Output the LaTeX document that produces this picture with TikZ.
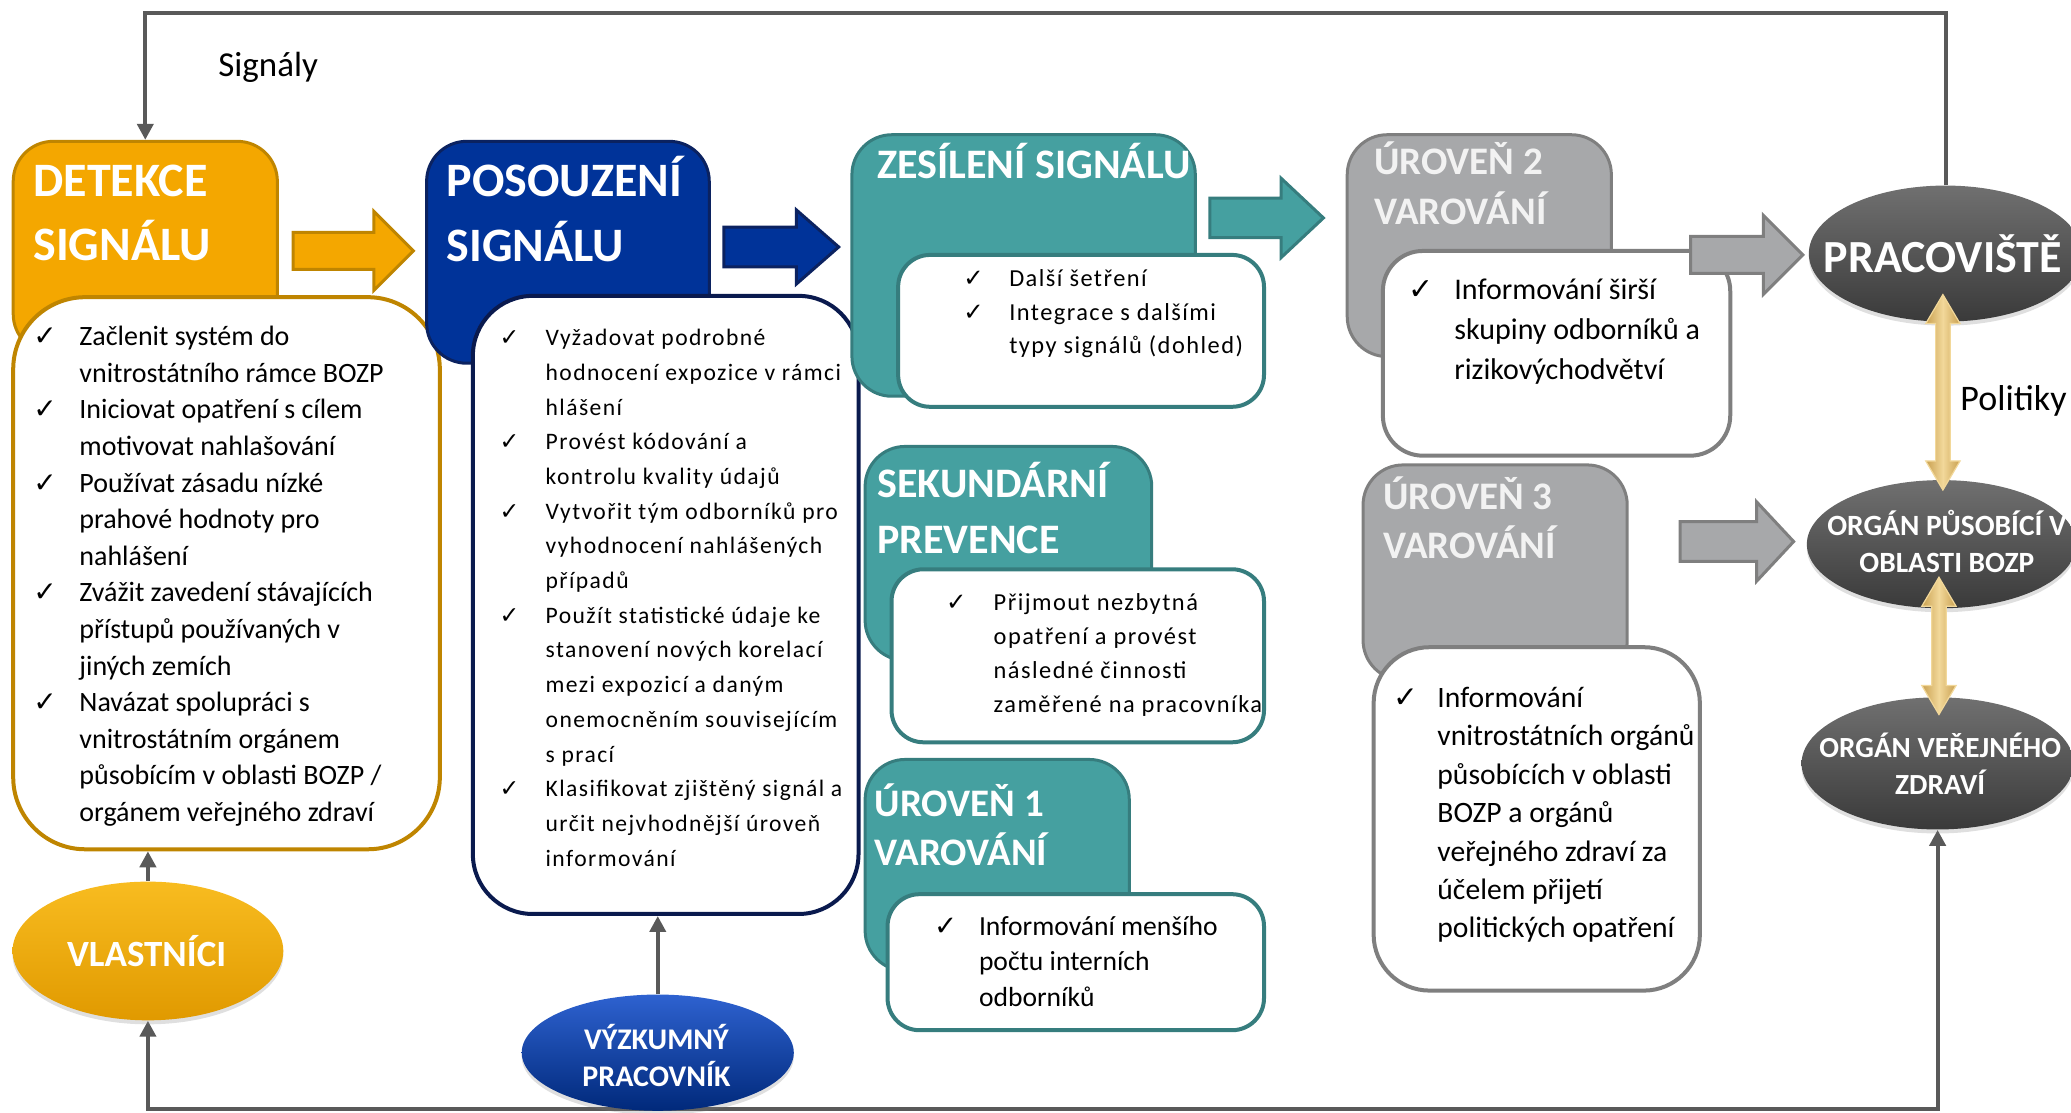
\documentclass[tikz,border=0pt]{standalone}
\usepackage{fontspec}
\setmainfont{Carlito}
\newfontfamily\symf{DejaVu Sans}
\newfontfamily\spacedf[LetterSpace=6]{Carlito}
\usetikzlibrary{shapes.geometric,arrows.meta,fit,calc,shadows,backgrounds}

\definecolor{orgF}{HTML}{F4A700}
\definecolor{orgD}{HTML}{BF8500}
\definecolor{orgL}{HTML}{F8BC20}
\definecolor{bluF}{HTML}{003399}
\definecolor{bluD}{HTML}{0B2260}
\definecolor{bluL}{HTML}{2E62D0}
\definecolor{navy}{HTML}{0A1A4E}
\definecolor{tealF}{HTML}{45A0A0}
\definecolor{tealD}{HTML}{367D7E}
\definecolor{gryF}{HTML}{A7A8AA}
\definecolor{gryD}{HTML}{7F7F7F}
\definecolor{gryT}{HTML}{F2F2F2}
\definecolor{conn}{HTML}{595959}
\definecolor{goldF}{HTML}{F2D89A}
\definecolor{goldD}{HTML}{C9A050}
\definecolor{ellL}{HTML}{707070}
\definecolor{ellD}{HTML}{3A3A3A}

\newcommand\ck{{\symf ✓}}
\newcommand\barrow[7]{\draw[#1] (#2,{#4-#5}) -- (#7,{#4-#5}) -- (#7,{#4-#6}) -- (#3,#4) -- (#7,{#4+#6}) -- (#7,{#4+#5}) -- (#2,{#4+#5}) -- cycle;}
\newcommand\dblarrow[3]{\path[draw=goldF, line width=0.6pt, left color=goldD, right color=goldD, middle color=goldF]
  (#1,#2) -- ({#1+13},{#2+22}) -- ({#1+5.5},{#2+22}) -- ({#1+5.5},{#3-22}) -- ({#1+13},{#3-22}) -- (#1,#3)
  -- ({#1-13},{#3-22}) -- ({#1-5.5},{#3-22}) -- ({#1-5.5},{#2+22}) -- ({#1-13},{#2+22}) -- cycle;}

\begin{document}
\begin{tikzpicture}[x=0.6604pt, y=-0.6604pt,
  hdr/.style={rectangle, rounded corners=20pt, line width=1.5pt, inner sep=0pt},
  wbox/.style={rectangle, fill=white, line width=2pt, inner sep=0pt},
  hd/.style={text=white, font=\bfseries\fontsize{24}{28}\selectfont, inner sep=0pt},
  hds/.style={text=white, font=\bfseries\fontsize{21}{26}\selectfont, inner sep=0pt},
  hdu/.style={text=white, font=\bfseries\fontsize{19.5}{25}\selectfont, inner sep=0pt},
  hdg/.style={text=gryT, font=\bfseries\fontsize{19.5}{25}\selectfont, inner sep=0pt},
  txt/.style={inner sep=0pt, text=black},
  ell/.style={ellipse, inner sep=0pt, drop shadow={shadow xshift=0pt, shadow yshift=-2pt, opacity=0.25}},
  elt/.style={text=white, align=center, inner sep=0pt},
  conn/.style={draw=conn, line width=2pt},
  arr/.style={-{Triangle[width=8pt,length=8pt]}},
]
\useasboundingbox (0,0) rectangle (1568,842);

% ---------- DETEKCE SIGNALU
\node[hdr, fill=orgF, draw=orgD, fit={(10,107)(210,268)}] (dethead) {};
\node[hd, anchor=base west] (dt1) at (25,149) {DETEKCE};
\node[hd, anchor=base west] (dt2) at (25,197) {SIGNÁLU};
\node[wbox, draw=orgD, rounded corners=36pt, fit={(10,225)(333,643)}] (detbox) {};
\node[txt, anchor=north west, font=\fontsize{14}{18.3}\selectfont] (dettxt) at (25,242) {%
\begin{tabular}{@{}p{23pt}@{}l@{}}
\ck & Začlenit systém do\\
    & vnitrostátního rámce BOZP\\
\ck & Iniciovat opatření s cílem\\
    & motivovat nahlašování\\
\ck & Používat zásadu nízké\\
    & prahové hodnoty pro\\
    & nahlášení\\
\ck & Zvážit zavedení stávajících\\
    & přístupů používaných v\\
    & jiných zemích\\
\ck & Navázat spolupráci s\\
    & vnitrostátním orgánem\\
    & působícím v oblasti BOZP /\\
    & orgánem veřejného zdraví
\end{tabular}};

% ---------- POSOUZENI SIGNALU
\node[hdr, fill=bluF, draw=bluD, fit={(323,107)(537,275)}] (poshead) {};
\node[hd, anchor=base west] (ps1) at (338,149) {POSOUZENÍ};
\node[hd, anchor=base west] (ps2) at (338,198) {SIGNÁLU};
\node[wbox, draw=navy, rounded corners=30pt, fit={(358,224)(650,692)}] (posbox) {};
\node[txt, anchor=north west, font=\spacedf\fontsize{11.8}{17.35}\selectfont] (postxt) at (378,243) {%
\begin{tabular}{@{}p{23pt}@{}l@{}}
\ck & Vyžadovat podrobné\\
    & hodnocení expozice v rámci\\
    & hlášení\\
\ck & Provést kódování a\\
    & kontrolu kvality údajů\\
\ck & Vytvořit tým odborníků pro\\
    & vyhodnocení nahlášených\\
    & případů\\
\ck & Použít statistické údaje ke\\
    & stanovení nových korelací\\
    & mezi expozicí a daným\\
    & onemocněním souvisejícím\\
    & s prací\\
\ck & Klasifikovat zjištěný signál a\\
    & určit nejvhodnější úroveň\\
    & informování
\end{tabular}};

% ---------- ZESILENI SIGNALU
\node[hdr, fill=tealF, draw=tealD, fit={(645,102)(905,300)}] (zeshead) {};
\node[hds, anchor=base west] (zs1) at (664,135) {ZESÍLENÍ SIGNÁLU};
\node[wbox, draw=tealD, rounded corners=16pt, fit={(680,193)(957,308)}] (zesbox) {};
\node[txt, anchor=north west, font=\spacedf\fontsize{12.2}{16.8}\selectfont] (zestxt) at (729,199) {%
\begin{tabular}{@{}p{23pt}@{}l@{}}
\ck & Další šetření\\
\ck & Integrace s dalšími\\
    & typy signálů (dohled)
\end{tabular}};

% ---------- SEKUNDARNI PREVENCE
\node[hdr, fill=tealF, draw=tealD, fit={(655,338)(872,500)}] (sekhead) {};
\node[hds, anchor=base west] (sk1) at (664,377) {SEKUNDÁRNÍ};
\node[hds, anchor=base west] (sk2) at (664,419) {PREVENCE};
\node[wbox, draw=tealD, rounded corners=16pt, fit={(675,431)(957,562)}] (sekbox) {};
\node[txt, anchor=north west, font=\spacedf\fontsize{12.2}{17}\selectfont] (sektxt) at (716,444) {%
\begin{tabular}{@{}p{23.8pt}@{}l@{}}
\ck & Přijmout nezbytná\\
    & opatření a provést\\
    & následné činnosti\\
    & zaměřené na pracovníka
\end{tabular}};

% ---------- UROVEN 1
\node[hdr, fill=tealF, draw=tealD, fit={(655,575)(855,735)}] (u1head) {};
\node[hdu, anchor=base west] (u11) at (662,618) {ÚROVEŇ 1};
\node[hdu, anchor=base west] (u12) at (662,655) {VAROVÁNÍ};
\node[wbox, draw=tealD, rounded corners=16pt, fit={(672,677)(957,780)}] (u1box) {};
\node[txt, anchor=north west, font=\fontsize{13.8}{17.8}\selectfont] (u1txt) at (707,689) {%
\begin{tabular}{@{}p{22.4pt}@{}l@{}}
\ck & Informování menšího\\
    & počtu interních\\
    & odborníků
\end{tabular}};

% ---------- UROVEN 2
\node[hdr, fill=gryF, draw=gryD, fit={(1020,102)(1220,270)}] (u2head) {};
\node[hdg, anchor=base west] (u21) at (1040,132) {ÚROVEŇ 2};
\node[hdg, anchor=base west] (u22) at (1040,170) {VAROVÁNÍ};
\node[wbox, draw=gryD, rounded corners=20pt, fit={(1047,190)(1310,345)}] (u2box) {};
\node[txt, anchor=north west, font=\fontsize{15}{20}\selectfont] (u2txt) at (1066,205) {%
\begin{tabular}{@{}p{23pt}@{}l@{}}
\ck & Informování širší\\
    & skupiny odborníků a\\
    & rizikovýchodvětví
\end{tabular}};

% ---------- UROVEN 3
\node[hdr, fill=gryF, draw=gryD, fit={(1032,352)(1232,515)}] (u3head) {};
\node[hdg, anchor=base west] (u31) at (1047,386) {ÚROVEŇ 3};
\node[hdg, anchor=base west] (u32) at (1047,423) {VAROVÁNÍ};
\node[wbox, draw=gryD, rounded corners=28pt, fit={(1040,490)(1287,750)}] (u3box) {};
\node[txt, anchor=north west, font=\fontsize{14.8}{19.2}\selectfont] (u3txt) at (1055,515) {%
\begin{tabular}{@{}p{21.8pt}@{}l@{}}
\ck & Informování\\
    & vnitrostátních orgánů\\
    & působících v oblasti\\
    & BOZP a orgánů\\
    & veřejného zdraví za\\
    & účelem přijetí\\
    & politických opatření
\end{tabular}};

% ---------- block arrows between stages
\barrow{fill=orgF, draw=orgD, line width=1.5pt}{222}{313}{190}{14}{30}{283}
\barrow{fill=bluF, draw=bluD, line width=1.5pt}{548}{635}{187}{15}{28}{603}
\barrow{fill=tealF, draw=tealD, line width=1.5pt}{916}{1002}{165}{15}{30}{970}
\barrow{fill=gryF, draw=gryD, line width=1.5pt}{1280}{1365}{193}{14}{30}{1335}
\barrow{fill=gryF, draw=gryD, line width=1.5pt}{1272}{1358}{410}{15}{30}{1330}

% ---------- ellipses
\node[ell, top color=ellL, bottom color=ellD, minimum width=207*0.6604pt, minimum height=103*0.6604pt] (prac) at (1473,192) {};
\node[elt, font=\bfseries\fontsize{23}{25}\selectfont] (pract) at (1471,192) {PRACOVIŠTĚ};
\node[ell, top color=ellL, bottom color=ellD, minimum width=204*0.6604pt, minimum height=97*0.6604pt] (bozp) at (1470,412) {};
\node[elt, font=\bfseries\fontsize{14.7}{18.5}\selectfont] (bozpt) at (1474,410) {ORGÁN PŮSOBÍCÍ V\\OBLASTI BOZP};
\node[ell, top color=ellL, bottom color=ellD, minimum width=206*0.6604pt, minimum height=100*0.6604pt] (ozdr) at (1467,578) {};
\node[elt, font=\bfseries\fontsize{14.6}{18.5}\selectfont] (ozdrt) at (1469,578) {ORGÁN VEŘEJNÉHO\\ZDRAVÍ};
\node[ell, top color=orgL, bottom color=orgF!92!black, minimum width=205*0.6604pt, minimum height=105*0.6604pt] (vlast) at (112,720) {};
\node[elt, font=\bfseries\fontsize{18.5}{20}\selectfont] (vlastt) at (111,720) {VLASTNÍCI};
\node[ell, top color=bluL, bottom color=bluF!80!black, minimum width=206*0.6604pt, minimum height=88*0.6604pt] (vyz) at (498,797) {};
\node[elt, font=\bfseries\fontsize{15}{18.5}\selectfont] (vyzt) at (497,799) {VÝZKUMNÝ\\PRACOVNÍK};

% ---------- gold double arrows
\dblarrow{1471}{223}{371}
\dblarrow{1468}{437}{541}

% ---------- connectors (behind everything)
\coordinate (topY) at (0,10);
\coordinate (botY) at (0,840);
\begin{scope}[on background layer]
\draw[conn, arr] (prac.north) |- (dethead.north |- topY) -- (dethead.north);
\draw[conn, {Triangle[width=8pt,length=8pt]}-{Triangle[width=8pt,length=8pt]}] (vlast.south) -- (vlast.south |- botY) -| (ozdr.south);
\draw[conn, arr] (vlast.north) -- (vlast.north |- detbox.south);
\draw[conn, arr] (vyz.north) -- (vyz.north |- posbox.south);
\end{scope}

% ---------- labels
\node[txt, font=\fontsize{17.5}{20}\selectfont, anchor=base west] (signaly) at (165,58) {Signály};
\node[txt, font=\fontsize{18}{21}\selectfont, anchor=base west] (politiky) at (1484,311) {Politiky};
\end{tikzpicture}
\end{document}
